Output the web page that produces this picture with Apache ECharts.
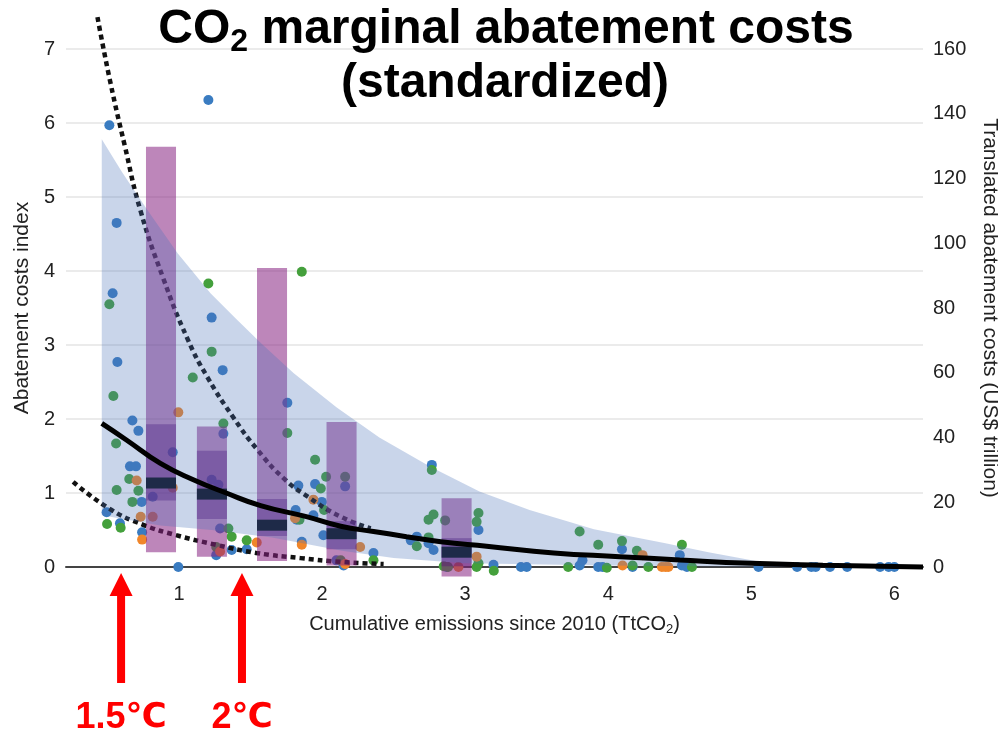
<!DOCTYPE html>
<html>
<head>
<meta charset="utf-8">
<script src="https://cdn.jsdelivr.net/npm/echarts@6/dist/echarts.min.js"></script>
<style>
  html, body { margin: 0; padding: 0; background: #ffffff; }
  #main { width: 998px; height: 738px; }
</style>
</head>
<body>
<div id="main"></div>
<script>
// ---- data ----------------------------------------------------------------
const xTickValues = [1, 2, 3, 4, 5, 6];

// scenario results: [cumulative emissions (TtCO2), abatement costs index]
const blueDots = [
  [0.513, 5.97], [1.205, 6.31], [0.564, 4.65], [0.536, 3.70], [0.569, 2.77], [1.228, 3.37], [1.305, 2.66],
  [0.674, 1.98], [0.716, 1.84], [0.956, 1.55], [1.757, 2.22], [1.31, 1.80], [0.657, 1.36], [0.699, 1.36],
  [0.816, 0.95], [0.739, 0.88], [0.494, 0.74], [0.587, 0.59], [0.742, 0.47], [0.995, 0.0],
  [1.228, 1.18], [1.275, 1.11], [1.287, 0.52], [1.26, 0.16], [1.368, 0.23], [1.473, 0.24],
  [1.834, 1.10], [1.951, 1.12], [1.998, 0.88], [1.815, 0.77], [1.858, 0.34], [2.009, 0.43], [1.823, 0.64], [1.939, 0.70],
  [2.161, 1.09], [2.10, 0.09], [2.15, 0.02], [2.359, 0.19], [2.767, 1.38], [2.662, 0.41], [2.62, 0.36], [2.744, 0.32], [2.779, 0.23],
  [3.093, 0.50], [2.87, 0.0], [3.198, 0.03], [3.39, 0.0], [3.43, 0.0], [3.82, 0.09], [3.80, 0.02], [3.93, 0.0], [3.96, 0.0],
  [4.096, 0.24], [4.17, 0.0], [4.5, 0.16], [4.515, 0.02], [4.55, 0.0], [5.05, 0.0], [5.32, 0.0], [5.42, 0.0], [5.45, 0.0],
  [5.55, 0.0], [5.67, 0.0], [5.9, 0.0], [5.96, 0.0], [6.0, 0.0]
];
const greenDots = [
  [0.513, 3.55], [1.205, 3.83], [1.228, 2.91], [1.096, 2.56], [1.858, 3.99], [0.541, 2.31], [0.56, 1.67], [1.757, 1.81],
  [1.31, 1.94], [0.652, 1.19], [0.716, 1.03], [0.564, 1.04], [0.674, 0.88], [0.497, 0.58], [0.592, 0.53], [1.345, 0.52],
  [1.368, 0.41], [1.473, 0.36], [1.26, 0.27], [1.951, 1.45], [2.028, 1.22], [1.991, 1.06], [2.014, 0.77], [1.842, 0.64],
  [2.161, 1.22], [2.13, 0.09], [2.359, 0.09], [2.767, 1.31], [2.744, 0.64], [2.779, 0.71], [2.662, 0.28], [2.744, 0.40],
  [2.86, 0.63], [3.093, 0.73], [3.08, 0.61], [3.093, 0.05], [3.08, 0.0], [3.2, -0.05], [2.85, 0.01], [2.88, 0.0],
  [3.72, 0.0], [3.80, 0.48], [3.93, 0.30], [3.99, -0.01], [4.096, 0.35], [4.2, 0.22], [4.17, 0.02], [4.28, 0.0],
  [4.515, 0.30], [4.585, 0.0]
];
const orangeDots = [
  [0.995, 2.09], [0.704, 1.17], [0.956, 1.07], [0.732, 0.68], [0.816, 0.68], [0.742, 0.37], [1.543, 0.33], [1.287, 0.21],
  [1.939, 0.91], [1.811, 0.66], [1.858, 0.30], [2.266, 0.27], [2.161, 0.04], [2.953, 0.0], [3.08, 0.14], [4.1, 0.02],
  [4.24, 0.16], [4.375, 0.0], [4.42, 0.0], [4.40, 0.0]
];

// central fit and the two dotted reference curves
const fitCurve = [
  [0.46, 1.94], [0.63, 1.72], [0.87, 1.40], [1.1, 1.18], [1.33, 1.0], [1.57, 0.83], [1.89, 0.68], [2.13, 0.55],
  [2.36, 0.48], [2.59, 0.41], [2.83, 0.34], [3.15, 0.28], [3.62, 0.19], [4.08, 0.14], [4.5, 0.095], [5.0, 0.05],
  [5.5, 0.025], [6.2, 0.0]
];
const upperDotted = [
  [0.43, 7.43], [0.52, 6.55], [0.62, 5.7], [0.73, 4.82], [0.89, 3.9], [1.06, 3.08], [1.2, 2.56], [1.38, 2.02],
  [1.55, 1.58], [1.73, 1.2], [1.9, 0.95], [2.13, 0.68], [2.34, 0.52]
];
const lowerDotted = [
  [0.26, 1.15], [0.52, 0.78], [0.75, 0.57], [0.98, 0.43], [1.26, 0.30], [1.54, 0.19], [1.85, 0.12], [2.13, 0.07], [2.43, 0.04]
];

// shaded range
const bandUpper = [
  [0.46, 5.78], [0.6, 5.34], [0.78, 4.82], [0.99, 4.24], [1.22, 3.70], [1.4, 3.35], [1.57, 3.03], [1.8, 2.62],
  [2.1, 2.16], [2.4, 1.75], [2.76, 1.35], [3.1, 1.02], [3.45, 0.77], [3.9, 0.51], [4.4, 0.32], [4.7, 0.2],
  [5.06, 0.07], [5.25, 0.0]
];
const bandLower = [
  [0.46, 0.70], [0.87, 0.56], [1.23, 0.50], [1.65, 0.40], [2.14, 0.22], [2.5, 0.12], [3.0, 0.05], [4.0, 0.02], [5.25, 0.0]
];

// box summaries per emission group
const boxX = [0.874, 1.23, 1.65, 2.136, 2.94];
const boxLow = [0.20, 0.14, 0.08, 0.02, -0.13];
const boxHigh = [5.68, 1.90, 4.04, 1.96, 0.93];
const boxQ1 = [0.90, 0.65, 0.42, 0.24, 0.01];
const boxQ3 = [1.93, 1.57, 0.92, 0.62, 0.39];
const boxMedian = [1.135, 0.985, 0.565, 0.45, 0.20];
const boxWidth = 0.21;

// temperature budget markers
const markerX = [0.595, 1.44];
const markerValues = ['1.5', '2'];

// ---- chart -----------------------------------------------------------------
const FONT = '"Liberation Sans", Arial, Helvetica, sans-serif';
const DEG_FONT = '"DejaVu Sans", "Liberation Sans", sans-serif';
const chart = echarts.init(document.getElementById('main'), null, { renderer: 'canvas' });

const boxData = boxX.map((x, i) => [x, boxLow[i], boxHigh[i], boxQ1[i], boxQ3[i], boxMedian[i]]);

function scatterSeries(data, color) {
  return {
    type: 'scatter', data: data, symbolSize: 10, z: 1, clip: false,
    itemStyle: { color: color, opacity: 1 }, silent: true
  };
}

const option = {
  animation: false,
  backgroundColor: '#ffffff',
  grid: { left: 66, right: 75, top: 49, bottom: 171, containLabel: false, outerBoundsMode: 'none' },
  xAxis: {
    type: 'value', min: 0.21, max: 6.2,
    name: '{a|Cumulative emissions since 2010 (TtCO}{b|2}{a|)}',
    nameLocation: 'middle', nameGap: 45,
    nameTextStyle: {
      rich: {
        a: { fontSize: 20, fontFamily: FONT, color: '#222', lineHeight: 24 },
        b: { fontSize: 13, fontFamily: FONT, color: '#222', lineHeight: 10, verticalAlign: 'bottom' }
      }
    },
    axisLine: { show: true, onZero: false, lineStyle: { color: '#444', width: 2 } },
    axisTick: { show: false },
    splitLine: { show: false },
    axisLabel: { customValues: xTickValues, fontSize: 20, fontFamily: FONT, color: '#222', margin: 17 }
  },
  yAxis: [
    {
      type: 'value', min: 0, max: 7, interval: 1, position: 'left',
      name: 'Abatement costs index', nameLocation: 'middle', nameGap: 31, nameRotate: 90,
      nameTextStyle: { fontSize: 21, fontFamily: FONT, color: '#222' },
      axisLine: { show: false }, axisTick: { show: false },
      splitLine: { show: true, lineStyle: { color: '#e4e4e4', width: 1.5 } },
      axisLabel: { fontSize: 20, fontFamily: FONT, color: '#222', margin: 11 }
    },
    {
      type: 'value', min: 0, max: 160, interval: 20, position: 'right',
      name: 'Translated abatement costs (US$ trillion)', nameLocation: 'middle', nameGap: 56, nameRotate: -90,
      nameTextStyle: { fontSize: 21, fontFamily: FONT, color: '#222' },
      axisLine: { show: false }, axisTick: { show: false }, splitLine: { show: false },
      axisLabel: { fontSize: 20, fontFamily: FONT, color: '#222', margin: 10 }
    }
  ],
  series: [
    scatterSeries(blueDots, '#3a7cc1'),
    scatterSeries(greenDots, '#44a03c'),
    scatterSeries(orangeDots, '#f0862a'),
    {
      type: 'line', data: upperDotted, smooth: true, showSymbol: false, z: 2, clip: false, silent: true,
      lineStyle: { color: '#111', width: 4.5, type: [5, 4] }
    },
    {
      type: 'line', data: lowerDotted, smooth: true, showSymbol: false, z: 2, clip: false, silent: true,
      lineStyle: { color: '#111', width: 4.5, type: [5, 4] }
    },
    {
      // boxes: full range, inter-quartile range and median
      type: 'custom', z: 3, clip: false, silent: true,
      data: boxData,
      renderItem: function (params, api) {
        const x = api.value(0);
        const w = api.size([boxWidth, 0])[0];
        const lo = api.coord([x, api.value(1)]);
        const hi = api.coord([x, api.value(2)]);
        const q1 = api.coord([x, api.value(3)]);
        const q3 = api.coord([x, api.value(4)]);
        const md = api.coord([x, api.value(5)]);
        const left = lo[0] - w / 2;
        return {
          type: 'group',
          children: [
            { type: 'rect', shape: { x: left, y: hi[1], width: w, height: lo[1] - hi[1] },
              style: { fill: 'rgba(135,35,130,0.55)' } },
            { type: 'rect', shape: { x: left, y: q3[1], width: w, height: q1[1] - q3[1] },
              style: { fill: 'rgba(90,20,120,0.45)' } },
            { type: 'rect', shape: { x: left, y: md[1] - 5.5, width: w, height: 11 },
              style: { fill: '#0b0b18' } }
          ]
        };
      }
    },
    {
      // shaded range between lower and upper envelopes
      type: 'custom', z: 4, clip: false, silent: true,
      data: [0],
      renderItem: function (params, api) {
        const pts = [];
        bandUpper.forEach(p => pts.push(api.coord(p)));
        for (let i = bandLower.length - 1; i >= 0; i--) pts.push(api.coord(bandLower[i]));
        return { type: 'polygon', shape: { points: pts }, style: { fill: 'rgba(75,115,185,0.3)' } };
      }
    },
    {
      type: 'line', data: fitCurve, smooth: true, showSymbol: false, z: 5, clip: false, silent: true,
      lineStyle: { color: '#000', width: 5 }
    }
  ]
};

chart.setOption(option);

// title, temperature markers
const graphics = [
  {
    type: 'text', x: 506, y: 30, z: 10,
    style: {
      text: '{m|CO}{s|2}{m| marginal abatement costs}',
      align: 'center', verticalAlign: 'middle',
      rich: {
        m: { fontSize: 48, fontWeight: 'bold', fontFamily: FONT, fill: '#000', lineHeight: 56 },
        s: { fontSize: 32, fontWeight: 'bold', fontFamily: FONT, fill: '#000', lineHeight: 30, verticalAlign: 'bottom' }
      }
    }
  },
  {
    type: 'text', x: 505, y: 84, z: 10,
    style: { text: '(standardized)', align: 'center', verticalAlign: 'middle',
             fontSize: 48, fontWeight: 'bold', fontFamily: FONT, fill: '#000' }
  }
];
markerX.forEach((mx, i) => {
  const px = chart.convertToPixel({ gridIndex: 0 }, [mx, 0])[0];
  graphics.push({
    type: 'polygon', z: 10,
    shape: { points: [[px, 573], [px + 11.5, 596], [px + 4, 596], [px + 4, 683], [px - 4, 683], [px - 4, 596], [px - 11.5, 596]] },
    style: { fill: '#ff0000' }
  });
  graphics.push({
    type: 'text', x: px, y: 718, z: 10,
    style: {
      text: '{n|' + markerValues[i] + '}{c|℃}', align: 'center', verticalAlign: 'middle',
      rich: {
        n: { fontSize: 36, fontWeight: 'bold', fontFamily: FONT, fill: '#ff0000', lineHeight: 40 },
        c: { fontSize: 34, fontWeight: 'bold', fontFamily: DEG_FONT, fill: '#ff0000', lineHeight: 40 }
      }
    }
  });
});
chart.setOption({ graphic: graphics });
</script>
</body>
</html>
